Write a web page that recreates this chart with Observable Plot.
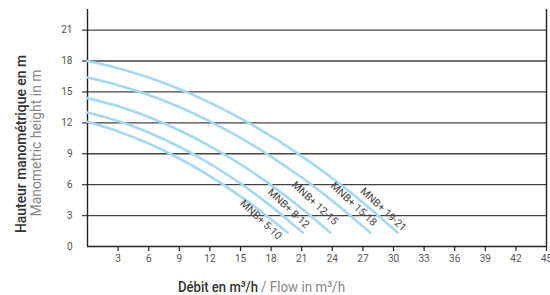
<!DOCTYPE html>
<html><head><meta charset="utf-8">
<script src="https://cdn.jsdelivr.net/npm/d3@7"></script>
<script src="https://cdn.jsdelivr.net/npm/@observablehq/plot@0.6"></script>
<style>body{margin:0;background:#fff} #chart svg{display:block}</style>
</head><body><div id="chart"></div>
<script>
const models = ["MNB+ 5-10", "MNB+ 8-12", "MNB+ 12-15", "MNB+ 15-18", "MNB+ 19-21"];

const flow5_10 = [0, 3, 6, 9, 12, 15, 17.5, 19.6];
const head5_10 = [12.1, 11.17, 9.99, 8.54, 6.83, 4.87, 3.03, 1.35];

const flow8_12 = [0, 3, 6, 9, 12, 15, 18, 21.1];
const head8_12 = [13.0, 12.17, 11.06, 9.68, 8.03, 6.11, 3.91, 1.35];

const flow12_15 = [0, 3, 6, 9, 12, 15, 18, 21, 23.8];
const head12_15 = [14.4, 13.61, 12.57, 11.28, 9.75, 7.98, 5.96, 3.69, 1.35];

const flow15_18 = [0, 3, 6, 9, 12, 15, 18, 21, 24, 27.7];
const head15_18 = [16.4, 15.66, 14.71, 13.54, 12.15, 10.55, 8.73, 6.69, 4.43, 1.35];

const flow19_21 = [0, 3, 6, 9, 12, 15, 18, 21, 24, 27, 30.4];
const head19_21 = [18, 17.3, 16.4, 15.29, 13.97, 12.44, 10.71, 8.77, 6.62, 4.27, 1.35];

const labelFlow = [17.0, 19.7, 22.3, 26.1, 29.0];
const labelHead = [2.6, 3.7, 4.2, 4.1, 3.6];

const xTicks = [3, 6, 9, 12, 15, 18, 21, 24, 27, 30, 33, 36, 39, 42, 45];
const yTicks = [0, 3, 6, 9, 12, 15, 18, 21];
const gridTicks = [3, 6, 9, 12, 15, 18, 21];

const xTitleMain = "Débit en m³/h";
const xTitleSub = "/ Flow in m³/h";
const yTitleMain = "Hauteur manométrique en m";
const yTitleSub = "Manometric height in m";

const flows = [flow5_10, flow8_12, flow12_15, flow15_18, flow19_21];
const heads = [head5_10, head8_12, head12_15, head15_18, head19_21];
const rows = models.flatMap((m, i) => flows[i].map((q, j) => ({model: m, q, h: heads[i][j]})));
const labels = models.map((m, i) => ({model: m, q: labelFlow[i], h: labelHead[i]}));

const svg = Plot.plot({
  width: 550, height: 295,
  marginLeft: 87, marginRight: 4, marginTop: 9, marginBottom: 49,
  x: {domain: [0, 45]},
  y: {domain: [0, 23]},
  style: {fontFamily: "Roboto, 'Liberation Sans', sans-serif", fontSize: "10px", background: "#fff", color: "#555"},
  marks: [
    Plot.gridY(gridTicks, {stroke: "#444", strokeOpacity: 1, strokeWidth: 1.3}),
    Plot.axisY(gridTicks, {tickSize: 5, text: null, stroke: "#444", strokeWidth: 1.3, label: null}),
    Plot.axisY(yTicks, {tickSize: 0, tickPadding: 15, fill: "#555", label: null}),
    Plot.axisX(xTicks, {tickSize: 5, tickPadding: 3, stroke: "#222", strokeWidth: 1.2, fill: "#555", label: null}),
    Plot.ruleX([0], {stroke: "#222", strokeWidth: 1.4}),
    Plot.ruleX([45], {stroke: "#222", strokeWidth: 1.4}),
    Plot.ruleY([0], {stroke: "#222", strokeWidth: 1.4}),
    Plot.line(rows, {x: "q", y: "h", z: "model", stroke: "#a3d9f2", strokeWidth: 2.6, curve: "natural"}),
    Plot.text(labels, {x: "q", y: "h", text: "model", rotate: 43, fill: "#444", fontSize: 10.5, textAnchor: "middle", lineAnchor: "middle"})
  ]
});

const s = d3.select(svg);
s.append("text").attr("x", 218).attr("y", 292)
  .attr("textLength", 80).attr("lengthAdjust", "spacingAndGlyphs")
  .attr("fill", "#333").style("font-family", "Roboto, sans-serif").style("font-size", "15px").style("font-weight", "500")
  .text(xTitleMain);
s.append("text").attr("x", 303).attr("y", 292)
  .attr("textLength", 84).attr("lengthAdjust", "spacingAndGlyphs")
  .attr("fill", "#888").style("font-family", "Roboto, sans-serif").style("font-size", "15px")
  .text(xTitleSub);

s.append("text").attr("transform", "translate(26,144) rotate(-90)").attr("text-anchor", "middle")
  .attr("textLength", 178).attr("lengthAdjust", "spacingAndGlyphs")
  .attr("fill", "#333").style("font-family", "Roboto, sans-serif").style("font-size", "15.5px").style("font-weight", "500")
  .text(yTitleMain);
s.append("text").attr("transform", "translate(41,143) rotate(-90)").attr("text-anchor", "middle")
  .attr("textLength", 147).attr("lengthAdjust", "spacingAndGlyphs")
  .attr("fill", "#888").style("font-family", "Roboto, sans-serif").style("font-size", "15px")
  .text(yTitleSub);

document.getElementById("chart").appendChild(svg);
</script>
</body></html>
